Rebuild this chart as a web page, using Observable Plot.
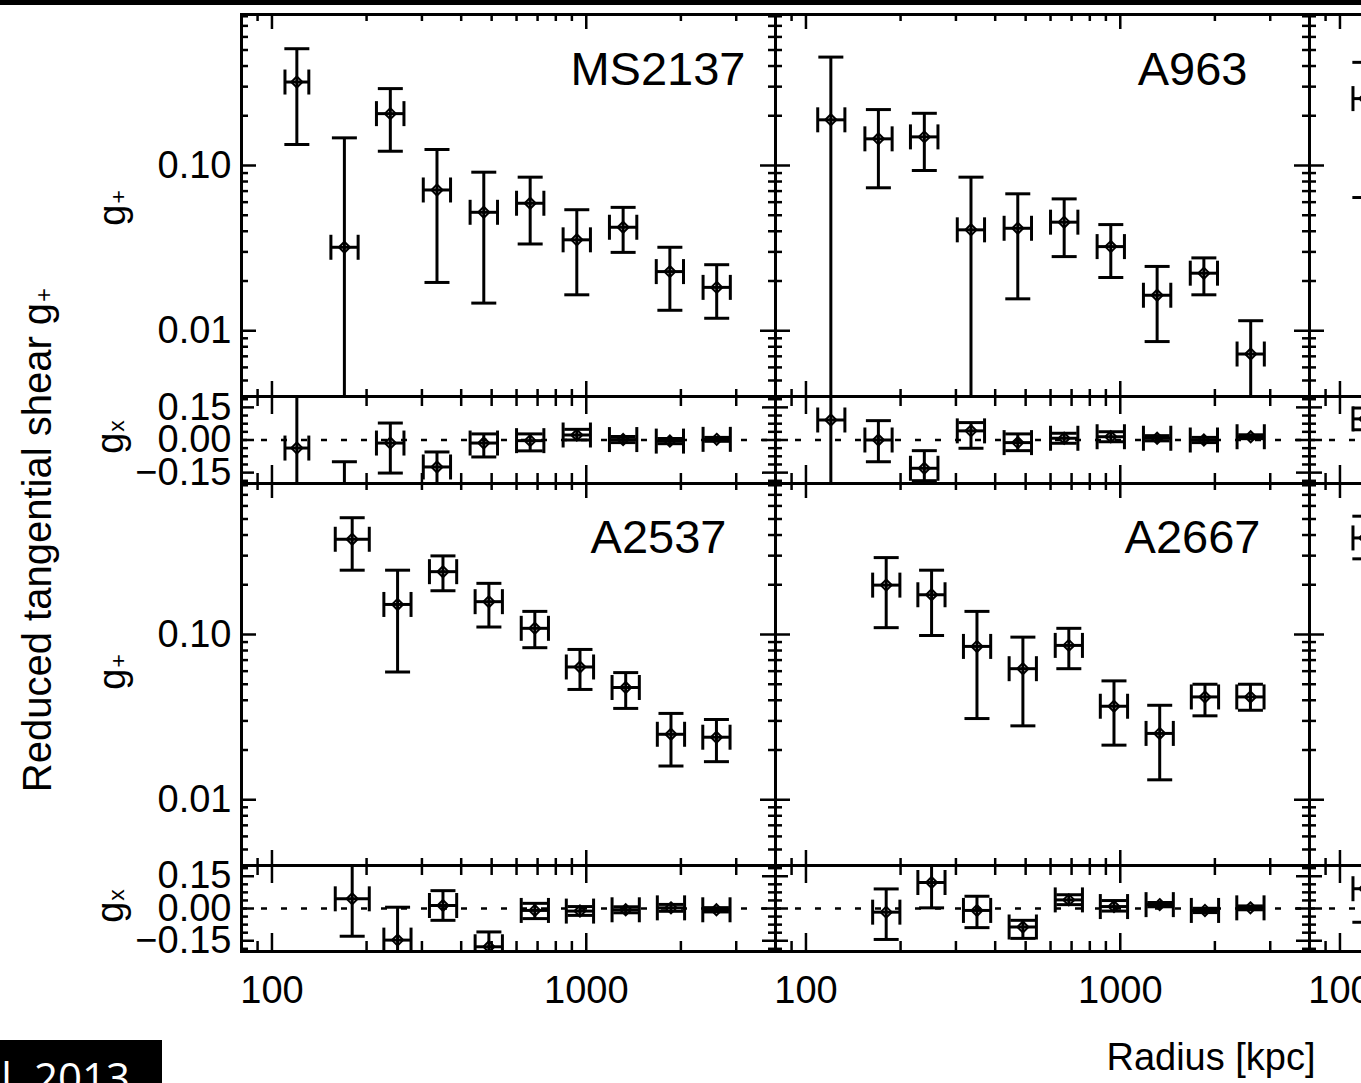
<!DOCTYPE html>
<html>
<head>
<meta charset="utf-8">
<script src="https://cdn.jsdelivr.net/npm/d3@7"></script>
<script src="https://cdn.jsdelivr.net/npm/@observablehq/plot@0.6"></script>
<style>
html,body{margin:0;padding:0;background:#fff;}
#root{position:relative;width:1361px;height:1083px;overflow:hidden;background:#fff;color:#000;font-family:"Liberation Sans",Arial,sans-serif;}
.lbl{position:absolute;white-space:nowrap;line-height:1;font-family:"Liberation Sans",Arial,sans-serif;font-size:38px;}
.rot{transform:translate(-50%,-50%) rotate(-90deg);}
.sub{font-size:60%;position:relative;top:0.05em;margin-left:1px;}
</style>
</head>
<body>
<div id="root"></div>
<script>
// ---------- axis ticks / labels ----------
const radiusDomain = [80, 4000];
const gPlusDomain = [0.004, 0.82];
const gCrossDomain = [-0.2, 0.2];
const radiusMajor = [100, 1000];
const radiusMinor = [90, 200, 300, 400, 500, 600, 700, 800, 900, 2000, 3000];
const radiusLabels = [100, 1000];
const gPlusMajor = [0.01, 0.1];
const gPlusMinor = [0.005, 0.006, 0.007, 0.008, 0.009, 0.02, 0.03, 0.04, 0.05, 0.06, 0.07, 0.08, 0.09, 0.2, 0.3, 0.4, 0.5, 0.6, 0.7, 0.8];
const gPlusLabels = [0.01, 0.1];
const gCrossMajor = [-0.15, 0, 0.15];
const gCrossMinor = [-0.1875, -0.1125, -0.075, -0.0375, 0.0375, 0.075, 0.1125, 0.1875];
const gCrossLabels = [0.15, 0, -0.15];

// ---------- data ----------
// columns: radius, radiusLo, radiusHi, gPlus, gPlusLo, gPlusHi, gCross, gCrossLo, gCrossHi
const MS2137 = [
  [120, 110, 131, 0.320, 0.134, 0.509, -0.037, -0.60, 0.60],
  [170, 154, 188, 0.032, 0.001, 0.147, -0.30, -0.50, -0.10],
  [238, 215, 263, 0.206, 0.122, 0.292, -0.014, -0.152, 0.078],
  [335, 303, 370, 0.0711, 0.0196, 0.125, -0.124, -0.25, -0.055],
  [472, 427, 522, 0.0521, 0.0147, 0.0911, -0.014, -0.078, 0.028],
  [663, 600, 733, 0.0591, 0.0335, 0.085, -0.003, -0.05, 0.028],
  [933, 844, 1031, 0.0355, 0.0165, 0.054, 0.023, 0.0, 0.049],
  [1310, 1185, 1448, 0.0423, 0.0298, 0.0558, 0.002, -0.012, 0.016],
  [1845, 1670, 2039, 0.0228, 0.0133, 0.032, -0.005, -0.017, 0.007],
  [2600, 2353, 2873, 0.0183, 0.0119, 0.0251, 0.003, -0.006, 0.012]
];
const A963 = [
  [120, 109, 133, 0.189, 0.001, 0.453, 0.092, -0.60, 0.60],
  [170, 154, 188, 0.145, 0.0733, 0.218, 0.0, -0.10, 0.089],
  [238, 215, 263, 0.149, 0.0933, 0.207, -0.13, -0.187, -0.049],
  [335, 303, 370, 0.0408, 0.001, 0.085, 0.042, -0.038, 0.08],
  [472, 427, 522, 0.0417, 0.0156, 0.0674, -0.012, -0.049, 0.028],
  [663, 600, 733, 0.0454, 0.0281, 0.0628, 0.008, -0.015, 0.031],
  [933, 844, 1031, 0.0323, 0.021, 0.0439, 0.015, -0.008, 0.038],
  [1310, 1185, 1448, 0.0164, 0.0086, 0.0245, 0.008, -0.004, 0.02],
  [1845, 1670, 2039, 0.0223, 0.0165, 0.0276, 0.0, -0.012, 0.012],
  [2600, 2353, 2873, 0.00723, 0.001, 0.0115, 0.015, 0.006, 0.024]
];
// third column, cut off at the right edge: only the first bins show
const clusterTopRight = [
  [120, 110, 131, 0.254, 0.064, 0.421, 0.097, 0.047, 0.147]
];
const A2537 = [
  [180, 159, 204, 0.377, 0.245, 0.509, 0.045, -0.129, 0.25],
  [251, 227, 277, 0.152, 0.0593, 0.245, -0.147, -0.30, 0.006],
  [350, 317, 387, 0.240, 0.184, 0.299, 0.014, -0.055, 0.083],
  [490, 443, 541, 0.158, 0.111, 0.204, -0.178, -0.30, -0.109],
  [686, 621, 758, 0.109, 0.0832, 0.138, -0.009, -0.047, 0.024],
  [955, 864, 1055, 0.0636, 0.0465, 0.0812, -0.012, -0.032, 0.009],
  [1335, 1208, 1475, 0.0478, 0.0357, 0.0588, -0.006, -0.02, 0.008],
  [1860, 1683, 2055, 0.0249, 0.016, 0.0333, 0.003, -0.013, 0.019],
  [2595, 2348, 2867, 0.0239, 0.017, 0.0306, -0.006, -0.016, 0.004]
];
const A2667 = [
  [180, 163, 199, 0.199, 0.110, 0.292, -0.017, -0.144, 0.091],
  [251, 227, 277, 0.174, 0.0986, 0.245, 0.121, 0.003, 0.25],
  [350, 317, 387, 0.0847, 0.031, 0.138, -0.009, -0.089, 0.057],
  [490, 443, 541, 0.0621, 0.028, 0.0964, -0.086, -0.139, -0.055],
  [686, 621, 758, 0.0859, 0.0621, 0.109, 0.04, 0.018, 0.064],
  [955, 864, 1055, 0.0368, 0.0214, 0.0524, 0.009, -0.012, 0.037],
  [1335, 1208, 1475, 0.0252, 0.0132, 0.0373, 0.018, 0.008, 0.028],
  [1860, 1683, 2055, 0.0419, 0.0322, 0.050, -0.009, -0.019, 0.001],
  [2595, 2348, 2867, 0.0419, 0.0348, 0.050, 0.003, -0.006, 0.012]
];
const clusterBottomRight = [
  [120, 110, 131, 0.384, 0.287, 0.52, 0.092, -0.064, 0.25]
];
const clusterNames = ["MS2137", "A963", "A2537", "A2667"];

// ---------- layout ----------
const root = document.getElementById("root");
const colX = [241, 775, 1309];
const panelW = 534;
const gTop = [14, 483], gH = 382;
const xTop = [396, 865], xH = [87, 86];

const hbar = {draw(ctx, size) { const h = Math.sqrt(size / Math.PI); ctx.moveTo(-h, 0); ctx.lineTo(h, 0); }};
const vbar = {draw(ctx, size) { const h = Math.sqrt(size / Math.PI); ctx.moveTo(0, -h); ctx.lineTo(0, h); }};
const fmt2 = d3.format(".2f");
const FONT = "Liberation Sans, Arial, sans-serif";

function makePanel(cfg) {
  const {rows, kind, left, top, height, name, nameDx, nameDy, yLabels, xLabels} = cfg;
  const width = panelW;
  const isG = kind === "g";
  const pts = (rows || []).map(d => isG
    ? {r: d[0], rLo: d[1], rHi: d[2], v: d[3], lo: d[4], hi: d[5]}
    : {r: d[0], rLo: d[1], rHi: d[2], v: d[6], lo: d[7], hi: d[8]});
  const tk = isG ? {xMaj: 15, xMin: 7, yMaj: 15, yMin: 7} : {xMaj: 18, xMin: 10, yMaj: 13, yMin: 7};
  const yMajor = isG ? gPlusMajor : gCrossMajor;
  const yMinor = isG ? gPlusMinor : gCrossMinor;
  const ln = {stroke: "black", strokeWidth: 2.5};
  const marks = [
    Plot.ruleX(radiusMajor, {x: d => d, insetTop: height - tk.xMaj, ...ln}),
    Plot.ruleX(radiusMajor, {x: d => d, insetBottom: height - tk.xMaj, ...ln}),
    Plot.ruleX(radiusMinor, {x: d => d, insetTop: height - tk.xMin, ...ln}),
    Plot.ruleX(radiusMinor, {x: d => d, insetBottom: height - tk.xMin, ...ln}),
    Plot.ruleY(yMajor, {y: d => d, insetRight: width - tk.yMaj, ...ln}),
    Plot.ruleY(yMajor, {y: d => d, insetLeft: width - tk.yMaj, ...ln}),
    Plot.ruleY(yMinor, {y: d => d, insetRight: width - tk.yMin, ...ln}),
    Plot.ruleY(yMinor, {y: d => d, insetLeft: width - tk.yMin, ...ln})
  ];
  if (!isG) marks.push(Plot.ruleY([0], {y: d => d, stroke: "black", strokeWidth: 2.5, strokeDasharray: "6 14"}));
  const eb = {stroke: "black", strokeWidth: 3, clip: true};
  marks.push(
    Plot.ruleX(pts, {x: "r", y1: "lo", y2: "hi", ...eb}),
    Plot.ruleY(pts, {y: "v", x1: "rLo", x2: "rHi", ...eb}),
    Plot.dot(pts, {x: "r", y: "lo", symbol: hbar, r: 12.5, fill: "none", ...eb}),
    Plot.dot(pts, {x: "r", y: "hi", symbol: hbar, r: 12.5, fill: "none", ...eb}),
    Plot.dot(pts, {x: "rLo", y: "v", symbol: vbar, r: 12.5, fill: "none", ...eb}),
    Plot.dot(pts, {x: "rHi", y: "v", symbol: vbar, r: 12.5, fill: "none", ...eb}),
    Plot.dot(pts, {x: "r", y: "v", symbol: "diamond2", r: 5, fill: "none", stroke: "black", strokeWidth: 2, clip: true})
  );
  marks.push(Plot.frame({stroke: "black", strokeWidth: 3}));
  if (name) marks.push(Plot.text([name], {frameAnchor: "top-right", textAnchor: "end", lineAnchor: "top", dx: -nameDx, dy: nameDy, fontSize: 47, fontFamily: FONT, fill: "black"}));
  if (yLabels) {
    const labs = isG ? gPlusLabels : gCrossLabels;
    marks.push(Plot.text(labs, {y: d => d, text: d => fmt2(d), frameAnchor: "left", textAnchor: "end", dx: -10, fontSize: 38, fontFamily: FONT, fill: "black"}));
  }
  if (xLabels) {
    marks.push(Plot.text(radiusLabels, {x: d => d, text: d => String(d), frameAnchor: "bottom", lineAnchor: "top", dy: 25, fontSize: 38, fontFamily: FONT, fill: "black"}));
  }
  const svg = Plot.plot({
    width, height, margin: 0,
    x: {type: "log", domain: radiusDomain, axis: null},
    y: isG ? {type: "log", domain: gPlusDomain, axis: null} : {type: "linear", domain: gCrossDomain, axis: null},
    style: {background: "none", overflow: "visible"},
    marks
  });
  svg.style.position = "absolute";
  svg.style.left = left + "px";
  svg.style.top = top + "px";
  root.appendChild(svg);
}

const panelRows = [[MS2137, A963, clusterTopRight], [A2537, A2667, clusterBottomRight]];
const nameOffsets = [[[30, 37], [62, 37]], [[49, 36], [49, 36]]];
for (let row = 0; row < 2; row++) {
  for (let col = 0; col < 3; col++) {
    const rows = panelRows[row][col];
    const name = col < 2 ? clusterNames[row * 2 + col] : null;
    const off = col < 2 ? nameOffsets[row][col] : [0, 0];
    makePanel({rows, kind: "g", left: colX[col], top: gTop[row], height: gH, name, nameDx: off[0], nameDy: off[1], yLabels: col === 0, xLabels: false});
    makePanel({rows, kind: "x", left: colX[col], top: xTop[row], height: xH[row], name: null, yLabels: col === 0, xLabels: row === 1});
  }
}

// ---------- HTML labels ----------
function addLabel(html, style, cls) {
  const d = document.createElement("div");
  d.className = "lbl " + (cls || "");
  d.innerHTML = html;
  Object.assign(d.style, style);
  root.appendChild(d);
  return d;
}
addLabel('g<span class="sub">+</span>', {left: "112px", top: "208px"}, "rot");
addLabel('g<span class="sub">x</span>', {left: "110px", top: "437px"}, "rot");
addLabel('g<span class="sub">+</span>', {left: "112px", top: "672px"}, "rot");
addLabel('g<span class="sub">x</span>', {left: "110px", top: "906px"}, "rot");
addLabel('Reduced tangential shear g<span class="sub">+</span>', {left: "37px", top: "540px", fontSize: "40px"}, "rot");
addLabel('Radius [kpc]', {left: "1211px", top: "1038px", transform: "translateX(-50%)"});

const bar = document.createElement("div");
Object.assign(bar.style, {position: "absolute", left: "0px", top: "0px", width: "1361px", height: "5px", background: "#000"});
root.appendChild(bar);
const box = document.createElement("div");
Object.assign(box.style, {position: "absolute", left: "0px", top: "1040px", width: "162px", height: "43px", background: "#000", overflow: "hidden"});
const boxText = document.createElement("div");
boxText.textContent = "al. 2013";
Object.assign(boxText.style, {position: "absolute", left: "-22px", top: "16px", color: "#fff", fontFamily: "'Open Sans', sans-serif", fontSize: "42px", lineHeight: "1", whiteSpace: "nowrap"});
box.appendChild(boxText);
root.appendChild(box);
</script>
</body>
</html>
